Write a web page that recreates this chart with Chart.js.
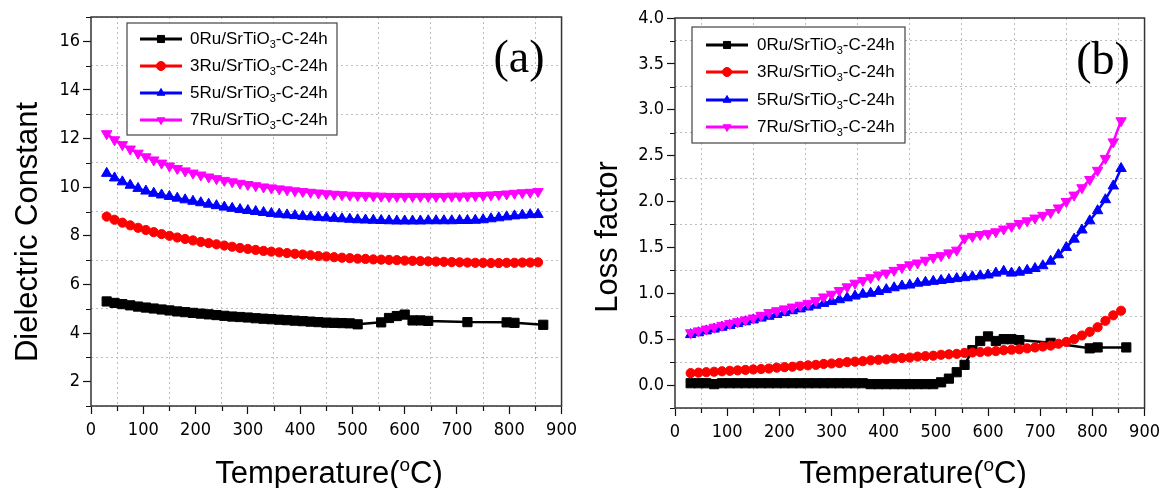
<!DOCTYPE html>
<html>
<head>
<meta charset="utf-8">
<script src="https://cdn.jsdelivr.net/npm/chart.js@4.4.0/dist/chart.umd.min.js"></script>
<style>
  html, body { margin: 0; padding: 0; background: #fff; }
  #wrap { position: relative; width: 1166px; height: 488px; }
  .panel { position: absolute; top: 0; width: 583px; height: 488px; }
</style>
</head>
<body>
<div id="wrap">
  <div class="panel" style="left:0"><canvas id="chartA" width="583" height="488"></canvas></div>
  <div class="panel" style="left:583px"><canvas id="chartB" width="583" height="488"></canvas></div>
</div>
<script>
// --- DATA ---
const seriesNames = ['0Ru', '3Ru', '5Ru', '7Ru'];
const seriesColors = ['#000000', '#ff0000', '#0000ff', '#ff00ff'];

// shared temperature grid (°C) for the smooth series
const temps = [30, 45, 60, 75, 90, 105, 120, 135, 150, 165, 180, 195, 210, 225, 240, 255, 270, 285, 300, 315,
  330, 345, 360, 375, 390, 405, 420, 435, 450, 465, 480, 495, 510, 525, 540, 555, 570, 585, 600, 615,
  630, 645, 660, 675, 690, 705, 720, 735, 750, 765, 780, 795, 810, 825, 840, 855];

// 0Ru sample temperatures (dense below 500 °C, sparse above)
const tempsBlackA = [30, 45, 60, 75, 90, 105, 120, 135, 150, 165, 180, 195, 210, 225, 240, 255, 270, 285, 300, 315,
  330, 345, 360, 375, 390, 405, 420, 435, 450, 465, 480, 495, 510, 555, 570, 585, 600, 615, 630, 645, 720, 795, 810, 865];
const tempsBlackB = [30, 45, 60, 75, 90, 105, 120, 135, 150, 165, 180, 195, 210, 225, 240, 255, 270, 285, 300, 315,
  330, 345, 360, 375, 390, 405, 420, 435, 450, 465, 480, 495, 510, 525, 540, 555, 570, 585, 600, 615, 630, 645, 660, 720, 795, 810, 865];

// (a) dielectric constant
const dielec0 = [5.30, 5.24, 5.19, 5.14, 5.09, 5.05, 5.01, 4.97, 4.93, 4.89, 4.86, 4.83, 4.80, 4.77, 4.74, 4.71, 4.68, 4.66, 4.64, 4.61,
  4.59, 4.57, 4.55, 4.53, 4.51, 4.49, 4.47, 4.45, 4.43, 4.42, 4.41, 4.40, 4.36, 4.44, 4.62, 4.70, 4.76, 4.52, 4.52, 4.50, 4.45, 4.44, 4.42, 4.34];
const dielec3 = [8.79, 8.66, 8.54, 8.43, 8.33, 8.24, 8.15, 8.07, 8.00, 7.93, 7.87, 7.81, 7.75, 7.70, 7.65, 7.60, 7.55, 7.50, 7.46, 7.42,
  7.38, 7.35, 7.32, 7.29, 7.26, 7.23, 7.20, 7.17, 7.15, 7.12, 7.10, 7.08, 7.06, 7.05, 7.03, 7.02, 7.01, 7.00, 6.98, 6.97,
  6.96, 6.95, 6.94, 6.93, 6.92, 6.91, 6.90, 6.89, 6.89, 6.88, 6.88, 6.89, 6.89, 6.90, 6.90, 6.91];
const dielec5 = [10.57, 10.38, 10.22, 10.08, 9.95, 9.84, 9.75, 9.68, 9.62, 9.55, 9.48, 9.42, 9.36, 9.30, 9.24, 9.18, 9.13, 9.08, 9.04, 9.00,
  8.96, 8.92, 8.89, 8.86, 8.83, 8.80, 8.78, 8.76, 8.74, 8.72, 8.70, 8.68, 8.66, 8.65, 8.64, 8.63, 8.62, 8.61, 8.61, 8.61,
  8.61, 8.62, 8.62, 8.62, 8.62, 8.63, 8.63, 8.64, 8.66, 8.70, 8.74, 8.78, 8.82, 8.85, 8.87, 8.88];
const dielec7 = [12.20, 11.95, 11.75, 11.57, 11.40, 11.25, 11.12, 10.99, 10.87, 10.77, 10.67, 10.58, 10.50, 10.42, 10.35, 10.28, 10.22, 10.16, 10.11, 10.06,
  10.01, 9.97, 9.93, 9.89, 9.85, 9.82, 9.79, 9.76, 9.73, 9.71, 9.69, 9.67, 9.66, 9.65, 9.64, 9.63, 9.62, 9.62, 9.62, 9.62,
  9.62, 9.62, 9.62, 9.62, 9.63, 9.63, 9.64, 9.65, 9.66, 9.68, 9.70, 9.72, 9.75, 9.77, 9.79, 9.82];

// (b) loss factor
const loss0 = [0.02, 0.02, 0.02, 0.01, 0.02, 0.02, 0.02, 0.02, 0.02, 0.02, 0.02, 0.02, 0.02, 0.02, 0.02, 0.02, 0.02, 0.02, 0.02, 0.02,
  0.02, 0.02, 0.02, 0.01, 0.01, 0.01, 0.01, 0.01, 0.01, 0.01, 0.01, 0.01, 0.03, 0.07, 0.14, 0.22, 0.38, 0.48, 0.53, 0.48,
  0.50, 0.50, 0.49, 0.46, 0.40, 0.41, 0.41];
const loss3 = [0.13, 0.135, 0.14, 0.145, 0.15, 0.155, 0.16, 0.165, 0.17, 0.175, 0.18, 0.19, 0.195, 0.20, 0.21, 0.215, 0.22, 0.23, 0.235, 0.24,
  0.25, 0.255, 0.26, 0.27, 0.275, 0.28, 0.29, 0.295, 0.30, 0.31, 0.315, 0.32, 0.33, 0.335, 0.34, 0.35, 0.355, 0.36, 0.365, 0.37,
  0.38, 0.385, 0.39, 0.40, 0.41, 0.42, 0.43, 0.45, 0.47, 0.50, 0.54, 0.58, 0.63, 0.70, 0.76, 0.81];
const loss5 = [0.55, 0.57, 0.59, 0.61, 0.63, 0.65, 0.67, 0.69, 0.71, 0.73, 0.75, 0.77, 0.79, 0.81, 0.83, 0.85, 0.87, 0.89, 0.91, 0.93,
  0.95, 0.97, 0.99, 1.00, 1.02, 1.04, 1.06, 1.08, 1.09, 1.11, 1.12, 1.13, 1.14, 1.15, 1.16, 1.17, 1.18, 1.19, 1.20, 1.22,
  1.24, 1.22, 1.23, 1.25, 1.27, 1.30, 1.35, 1.42, 1.50, 1.59, 1.69, 1.79, 1.90, 2.02, 2.17, 2.36];
const loss7 = [0.57, 0.59, 0.61, 0.63, 0.65, 0.67, 0.69, 0.71, 0.73, 0.76, 0.79, 0.81, 0.83, 0.85, 0.87, 0.89, 0.92, 0.96, 0.99, 1.03,
  1.07, 1.11, 1.14, 1.17, 1.20, 1.22, 1.25, 1.28, 1.31, 1.33, 1.36, 1.39, 1.41, 1.44, 1.47, 1.60, 1.62, 1.64, 1.65, 1.67,
  1.70, 1.73, 1.76, 1.79, 1.82, 1.85, 1.88, 1.93, 2.00, 2.07, 2.15, 2.24, 2.34, 2.47, 2.65, 2.88];

// --- STYLE ---
const SANS = "'Liberation Sans', Arial, sans-serif";
const NARROW = "'DejaVu Sans Condensed', 'Liberation Sans Narrow', 'Arial Narrow', 'Liberation Sans', Arial, sans-serif";
const SERIF = "'Liberation Serif', 'Times New Roman', serif";
const markers = [
  { pointStyle: 'rect', pointRadius: 6.5, rotation: 0 },
  { pointStyle: 'circle', pointRadius: 4.6, rotation: 0 },
  { pointStyle: 'triangle', pointRadius: 6, rotation: 0 },
  { pointStyle: 'triangle', pointRadius: 6, rotation: 180 }
];

function toPoints(xs, ys) {
  return xs.map((x, i) => ({ x: x, y: ys[i] }));
}

function makeDataset(i, xs, ys) {
  return {
    label: seriesNames[i],
    data: toPoints(xs, ys),
    borderColor: seriesColors[i],
    backgroundColor: seriesColors[i],
    borderWidth: 2.5,
    pointStyle: markers[i].pointStyle,
    pointRadius: markers[i].pointRadius,
    pointRotation: markers[i].rotation,
    pointBorderWidth: 1,
    pointHoverRadius: markers[i].pointRadius,
    tension: 0,
    order: 4 - i
  };
}

// --- DECORATION PLUGIN (frame, minor ticks, titles, legend, panel letter) ---
const decor = {
  id: 'decor',
  afterDraw(chart, args, o) {
    const ctx = chart.ctx;
    const a = chart.chartArea;
    const xs = chart.scales.x, ys = chart.scales.y;
    ctx.save();

    // minor ticks
    ctx.strokeStyle = '#111';
    ctx.lineWidth = 1.2;
    ctx.beginPath();
    xs.ticks.forEach(t => {
      if (!o.isMajorX(t.value)) {
        const px = Math.round(xs.getPixelForValue(t.value)) + 0.5;
        ctx.moveTo(px, a.bottom); ctx.lineTo(px, a.bottom + 5);
      }
    });
    ys.ticks.forEach(t => {
      if (!o.isMajorY(t.value)) {
        const py = Math.round(ys.getPixelForValue(t.value)) + 0.5;
        ctx.moveTo(a.left, py); ctx.lineTo(a.left - 5, py);
      }
    });
    ctx.stroke();

    // frame
    ctx.strokeStyle = '#333';
    ctx.lineWidth = 1.5;
    ctx.strokeRect(a.left, a.top, a.right - a.left, a.bottom - a.top);

    // panel letter
    ctx.fillStyle = '#000';
    ctx.font = '46px ' + SERIF;
    ctx.textAlign = 'center';
    ctx.textBaseline = 'middle';
    ctx.fillText(o.letter, o.letterX, o.letterY);

    // x title with superscript o
    ctx.textBaseline = 'alphabetic';
    ctx.textAlign = 'left';
    const big = '31px ' + SANS, small = '19px ' + SANS;
    ctx.font = big;
    const p1 = 'Temperature(', p3 = 'C)';
    const w1 = ctx.measureText(p1).width, w3 = ctx.measureText(p3).width;
    ctx.font = small;
    const w2 = ctx.measureText('o').width;
    let x0 = o.xTitleX - (w1 + w2 + w3) / 2;
    ctx.font = big; ctx.fillText(p1, x0, o.xTitleY);
    ctx.font = small; ctx.fillText('o', x0 + w1, o.xTitleY - 12);
    ctx.font = big; ctx.fillText(p3, x0 + w1 + w2, o.xTitleY);

    // y title
    ctx.save();
    ctx.translate(o.yTitleX, o.yTitleY);
    ctx.rotate(-Math.PI / 2);
    ctx.textAlign = 'center';
    ctx.font = big;
    ctx.fillText(o.yTitle, 0, 0);
    ctx.restore();

    // legend
    const b = o.legendBox;
    ctx.fillStyle = '#fff';
    ctx.fillRect(b[0], b[1], b[2], b[3]);
    ctx.strokeStyle = '#444';
    ctx.lineWidth = 1.2;
    ctx.strokeRect(b[0], b[1], b[2], b[3]);
    chart.data.datasets.forEach((ds, i) => {
      const y = o.rowY[i];
      ctx.strokeStyle = ds.borderColor;
      ctx.lineWidth = 3;
      ctx.beginPath();
      ctx.moveTo(o.lineX[0], y); ctx.lineTo(o.lineX[1], y);
      ctx.stroke();
      ctx.fillStyle = ds.backgroundColor;
      ctx.lineWidth = 1;
      Chart.helpers.drawPoint(ctx, {
        pointStyle: ds.pointStyle, rotation: ds.pointRotation,
        radius: ds.pointStyle === 'rect' ? 5 : 4.5, borderWidth: 1
      }, (o.lineX[0] + o.lineX[1]) / 2, y);
      ctx.fillStyle = '#000';
      ctx.textAlign = 'left';
      ctx.textBaseline = 'middle';
      const fMain = '17px ' + SANS, fSub = '11px ' + SANS;
      const s1 = ds.label + '/SrTiO', s3 = '-C-24h';
      ctx.font = fMain;
      ctx.fillText(s1, o.textX, y);
      const ws1 = ctx.measureText(s1).width;
      ctx.font = fSub;
      ctx.fillText('3', o.textX + ws1, y + 6);
      const ws2 = ctx.measureText('3').width;
      ctx.font = fMain;
      ctx.fillText(s3, o.textX + ws1 + ws2, y);
    });

    ctx.restore();
  }
};

function buildOptions(cfg) {
  return {
    responsive: false,
    animation: false,
    devicePixelRatio: 1,
    layout: { padding: cfg.padding },
    plugins: {
      legend: { display: false },
      tooltip: { enabled: false },
      decor: cfg.decor
    },
    scales: {
      x: {
        type: 'linear',
        min: 0, max: 900,
        afterFit(scale) { scale.height = cfg.xHeight; },
        afterBuildTicks(scale) {
          const t = [];
          for (let v = 0; v <= 900; v += 50) t.push({ value: v });
          scale.ticks = t;
        },
        border: { display: false, dash: [2, 3] },
        grid: {
          color: c => (c.tick && c.tick.value % 100 !== 0) ? '#bdbdbd' : 'rgba(0,0,0,0)',
          lineWidth: 1,
          tickColor: c => (c.tick && c.tick.value % 100 === 0) ? '#111' : 'rgba(0,0,0,0)',
          tickLength: 8,
          tickWidth: 1.2
        },
        ticks: {
          autoSkip: false,
          maxRotation: 0,
          padding: 6,
          color: '#000',
          font: { family: NARROW, size: 18 },
          callback: v => (v % 100 === 0 ? String(v) : '')
        }
      },
      y: {
        type: 'linear',
        min: cfg.yMin, max: cfg.yMax,
        afterFit(scale) { scale.width = cfg.yWidth; },
        afterBuildTicks(scale) { scale.ticks = cfg.yTicks.map(v => ({ value: v })); },
        border: { display: false, dash: [2, 3] },
        grid: {
          color: c => (c.tick && !cfg.isMajorY(c.tick.value)) ? '#bdbdbd' : 'rgba(0,0,0,0)',
          lineWidth: 1,
          tickColor: c => (c.tick && cfg.isMajorY(c.tick.value)) ? '#111' : 'rgba(0,0,0,0)',
          tickLength: 8,
          tickWidth: 1.2
        },
        ticks: {
          autoSkip: false,
          padding: 3,
          color: '#000',
          font: { family: NARROW, size: 18 },
          callback: cfg.yLabel
        }
      }
    }
  };
}

// y tick positions (major + minor)
const yTicksA = [1, 2, 3, 4, 5, 6, 7, 8, 9, 10, 11, 12, 13, 14, 15, 16, 17];
const yTicksB = [-0.25, 0, 0.25, 0.5, 0.75, 1, 1.25, 1.5, 1.75, 2, 2.25, 2.5, 2.75, 3, 3.25, 3.5, 3.75, 4];

const isMajorA = v => Math.abs(v % 2) < 1e-6;
const isMajorB = v => Math.abs(v * 2 - Math.round(v * 2)) < 1e-6;
const isMajorX = v => v % 100 === 0;

new Chart(document.getElementById('chartA'), {
  type: 'line',
  data: {
    datasets: [
      makeDataset(0, tempsBlackA, dielec0),
      makeDataset(1, temps, dielec3),
      makeDataset(2, temps, dielec5),
      makeDataset(3, temps, dielec7)
    ]
  },
  options: buildOptions({
    padding: { left: 0, right: 17, top: 17, bottom: 0 },
    xHeight: 82, yWidth: 91,
    yMin: 1, yMax: 17, yTicks: yTicksA,
    isMajorY: isMajorA,
    yLabel: v => (isMajorA(v) ? String(v) : ''),
    decor: {
      isMajorX: isMajorX, isMajorY: isMajorA,
      letter: '(a)', letterX: 519, letterY: 60,
      xTitleX: 329, xTitleY: 483,
      yTitle: 'Dielectric Constant', yTitleX: 37, yTitleY: 232,
      legendBox: [127, 23, 210, 112],
      lineX: [140, 182], textX: 190, rowY: [39, 66, 93, 120]
    }
  }),
  plugins: [decor]
});

new Chart(document.getElementById('chartB'), {
  type: 'line',
  data: {
    datasets: [
      makeDataset(0, tempsBlackB, loss0),
      makeDataset(1, temps, loss3),
      makeDataset(2, temps, loss5),
      makeDataset(3, temps, loss7)
    ]
  },
  options: buildOptions({
    padding: { left: 0, right: 18, top: 18, bottom: 0 },
    xHeight: 80, yWidth: 92,
    yMin: -0.25, yMax: 4, yTicks: yTicksB,
    isMajorY: isMajorB,
    yLabel: v => (isMajorB(v) ? v.toFixed(1) : ''),
    decor: {
      isMajorX: isMajorX, isMajorY: isMajorB,
      letter: '(b)', letterX: 520, letterY: 62,
      xTitleX: 330, xTitleY: 483,
      yTitle: 'Loss factor', yTitleX: 34, yTitleY: 237,
      legendBox: [109, 27, 213, 116],
      lineX: [123, 165], textX: 174, rowY: [45, 72, 100, 127]
    }
  }),
  plugins: [decor]
});
</script>
</body>
</html>
